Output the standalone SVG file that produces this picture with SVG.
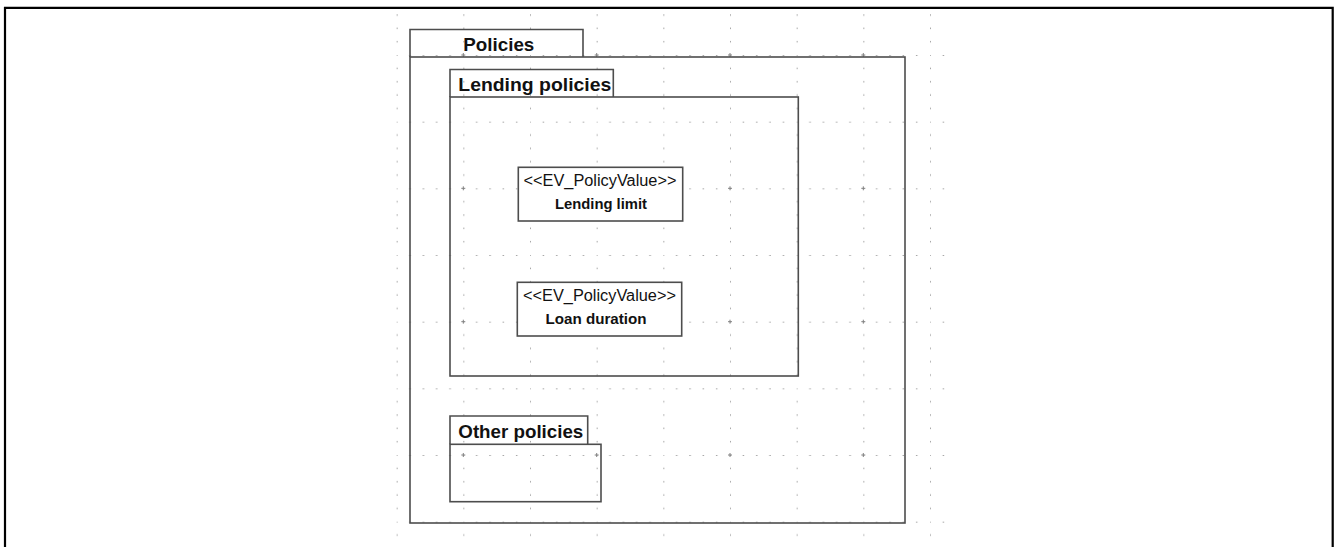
<svg xmlns="http://www.w3.org/2000/svg" width="1335" height="547" viewBox="0 0 1335 547">
  <style>
    .frame { fill: none; stroke: #4d4d4d; stroke-width: 1.6; }
    .node { fill: #fff; stroke: #4d4d4d; stroke-width: 1.6; }
    .pkg { font-family: "Liberation Sans", Arial, sans-serif; font-weight: bold; font-size: 18.67px; fill: #111; }
    .stereo { font-family: "Liberation Sans", Arial, sans-serif; font-size: 16px; fill: #111; text-anchor: middle; }
    .name { font-family: "Liberation Sans", Arial, sans-serif; font-weight: bold; font-size: 14.67px; fill: #111; text-anchor: middle; }
    .cross { stroke: #808080; stroke-width: 1; fill: none; }
  </style>
  <defs>
    <!-- one major cell of the editor grid: dots along its left and top edges -->
    <pattern id="gridCell" patternUnits="userSpaceOnUse" x="396.667" y="55" width="66.667" height="66.667">
      <g fill="#8c8c8c">
        <rect x="-0.7" y="-0.7" width="1.5" height="1.5"/>
        <rect x="-0.7" y="12.63" width="1.5" height="1.5"/>
        <rect x="-0.7" y="25.97" width="1.5" height="1.5"/>
        <rect x="-0.7" y="39.3" width="1.5" height="1.5"/>
        <rect x="-0.7" y="52.63" width="1.5" height="1.5"/>
        <rect x="12.63" y="-0.7" width="1.5" height="1.5"/>
        <rect x="25.97" y="-0.7" width="1.5" height="1.5"/>
        <rect x="39.3" y="-0.7" width="1.5" height="1.5"/>
        <rect x="52.63" y="-0.7" width="1.5" height="1.5"/>
      </g>
    </pattern>
  </defs>

  <rect width="1335" height="547" fill="#fff"/>

  <!-- page border -->
  <path d="M5,548 V7.8 H1332.7 V548" fill="none" stroke="#000" stroke-width="2.2"/>

  <!-- editor grid -->
  <g id="grid">
    <rect x="390" y="9" width="557" height="538" fill="url(#gridCell)"/>
    <path class="cross" d="
      M461.3,55 h4 M463.3,53 v4 M594.7,55 h4 M596.7,53 v4 M728,55 h4 M730,53 v4 M861.3,55 h4 M863.3,53 v4
      M461.3,188.3 h4 M463.3,186.3 v4 M594.7,188.3 h4 M596.7,186.3 v4 M728,188.3 h4 M730,186.3 v4 M861.3,188.3 h4 M863.3,186.3 v4
      M461.3,321.7 h4 M463.3,319.7 v4 M594.7,321.7 h4 M596.7,319.7 v4 M728,321.7 h4 M730,319.7 v4 M861.3,321.7 h4 M863.3,319.7 v4
      M461.3,455 h4 M463.3,453 v4 M594.7,455 h4 M596.7,453 v4 M728,455 h4 M730,453 v4 M861.3,455 h4 M863.3,453 v4"/>
  </g>

  <!-- packages -->
  <g id="pkg-policies">
    <path class="frame" d="M410,57 V29.5 H583 V57"/>
    <rect class="frame" x="410" y="57" width="495" height="466"/>
    <text class="pkg" x="463.3" y="51" textLength="71" lengthAdjust="spacingAndGlyphs">Policies</text>
  </g>

  <g id="pkg-lending">
    <path class="frame" d="M450,97 V69.5 H613.3 V97"/>
    <rect class="frame" x="450" y="97" width="348.3" height="279"/>
    <text class="pkg" x="458.3" y="91" textLength="153" lengthAdjust="spacingAndGlyphs">Lending policies</text>
  </g>

  <g id="pkg-other">
    <path class="frame" d="M450,444.3 V416 H587.7 V444.3"/>
    <rect class="frame" x="450" y="444.3" width="151" height="57.4"/>
    <text class="pkg" x="458.3" y="438" textLength="125" lengthAdjust="spacingAndGlyphs">Other policies</text>
  </g>

  <!-- policy values -->
  <g id="node-lending-limit">
    <rect class="node" x="518.3" y="167.3" width="164.4" height="53.7"/>
    <text class="stereo" x="600" y="186" textLength="153" lengthAdjust="spacingAndGlyphs">&lt;&lt;EV_PolicyValue&gt;&gt;</text>
    <text class="name" x="601" y="208.5" textLength="92" lengthAdjust="spacingAndGlyphs">Lending limit</text>
  </g>

  <g id="node-loan-duration">
    <rect class="node" x="517.3" y="282.3" width="164.4" height="53.7"/>
    <text class="stereo" x="599.5" y="301" textLength="153" lengthAdjust="spacingAndGlyphs">&lt;&lt;EV_PolicyValue&gt;&gt;</text>
    <text class="name" x="596" y="323.5" textLength="101" lengthAdjust="spacingAndGlyphs">Loan duration</text>
  </g>

  <g id="connectors"></g>
</svg>
